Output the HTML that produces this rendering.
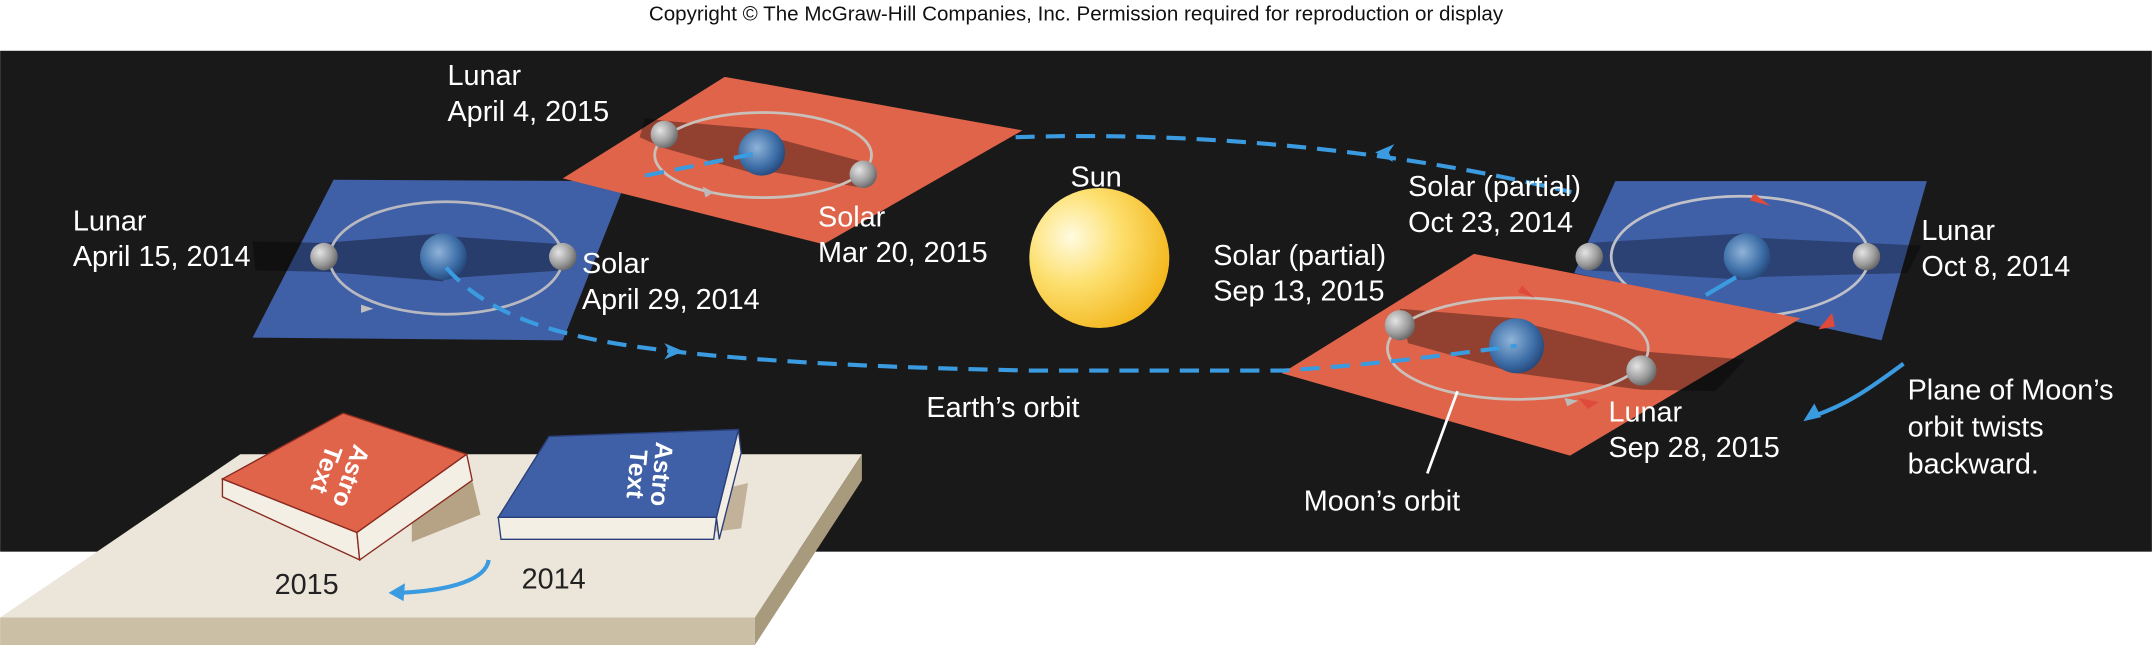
<!DOCTYPE html>
<html><head><meta charset="utf-8"><style>
html,body{margin:0;padding:0;background:#fff;}
svg{display:block;}
text{font-family:"Liberation Sans Narrow","Liberation Sans",sans-serif;}
.w{fill:#fff;font-size:21px;}
</style></head><body>
<svg width="2152" height="648" viewBox="0 0 1568 472.2" xmlns="http://www.w3.org/2000/svg">
<defs>
<radialGradient id="sun" cx="0.3" cy="0.35" r="0.75"><stop offset="0" stop-color="#fffbe0"/><stop offset="0.45" stop-color="#fde070"/><stop offset="1" stop-color="#f2b51a"/></radialGradient>
<radialGradient id="earth" cx="0.4" cy="0.4" r="0.7"><stop offset="0" stop-color="#8fb3d8"/><stop offset="0.6" stop-color="#3e6fa8"/><stop offset="1" stop-color="#1d3d6e"/></radialGradient>
<radialGradient id="moon" cx="0.35" cy="0.35" r="0.75"><stop offset="0" stop-color="#e4e4e4"/><stop offset="0.6" stop-color="#9a9a9a"/><stop offset="1" stop-color="#5a5a5a"/></radialGradient>
</defs>
<text x="784" y="15" text-anchor="middle" font-size="15" fill="#111" style="font-family:'Liberation Sans',sans-serif">Copyright © The McGraw-Hill Companies, Inc. Permission required for reproduction or display</text>
<rect x="0" y="37" width="1568" height="365" fill="#1a1919"/>

<!-- Sun -->
<circle cx="801" cy="188" r="51" fill="url(#sun)"/>
<text class="w" x="780" y="136">Sun</text>

<!-- left blue plane -->
<polygon points="243,131 456,132 410,248 184,246" fill="#3f5fa6"/>
<polygon points="184,176 236,177 323,170 323,205 236,198 186,197" fill="#000" opacity="0.35"/>
<polygon points="323,172 410,178 410,197 323,203" fill="#000" opacity="0.35"/>
<ellipse cx="325" cy="188" rx="85" ry="41" fill="none" stroke="#b8b8c0" stroke-width="2"/>
<path d="M263,222 l9,3 l-9,3z" fill="#c0c0c0"/>
<circle cx="236" cy="187" r="10" fill="url(#moon)"/>
<circle cx="410" cy="187" r="10" fill="url(#moon)"/>
<circle cx="323" cy="187" r="17" fill="url(#earth)"/>

<!-- red plane top -->
<polygon points="410,130 528,56 745,95 600,178" fill="#e0644a"/>
<polygon points="470,86 484,88 555,94 555,128 484,108 466,100" fill="#000" opacity="0.35"/>
<polygon points="555,98 629,118 629,137 555,124" fill="#000" opacity="0.35"/>
<ellipse cx="556" cy="113" rx="79" ry="31" fill="none" stroke="#c9c0bb" stroke-width="2"/>
<path d="M520,140 l-8,-4 l2,8z" fill="#bbb"/>
<circle cx="484" cy="98" r="10" fill="url(#moon)"/>
<circle cx="629" cy="127" r="10" fill="url(#moon)"/>
<circle cx="555" cy="111" r="17" fill="url(#earth)"/>

<!-- right blue plane -->
<polygon points="1177,132 1404,132 1371,248 1147,199" fill="#3f5fa6"/>
<polygon points="1158,177 1273,170 1273,204 1158,197" fill="#000" opacity="0.3"/>
<polygon points="1273,173 1400,179 1390,199 1273,202" fill="#000" opacity="0.3"/>
<ellipse cx="1268" cy="187" rx="94" ry="44" fill="none" stroke="#c0c0c8" stroke-width="2"/>
<path d="M1290,150 l-15,-4 l3,-5z" fill="#e04a3a"/>
<path d="M1325,240 l10,-12 l2,10z" fill="#e04a3a"/>
<circle cx="1158" cy="187" r="10" fill="url(#moon)"/>
<circle cx="1360" cy="187" r="10" fill="url(#moon)"/>
<circle cx="1273" cy="187" r="17" fill="url(#earth)"/>
<line x1="1243" y1="215" x2="1265" y2="202" stroke="#3a9be0" stroke-width="3"/>

<!-- right red plane -->
<polygon points="1074,185 1312,232 1144,332 934,272" fill="#e0644a"/>
<polygon points="1020,225 1105,232 1105,272 1026,250" fill="#000" opacity="0.35"/>
<polygon points="1105,234 1196,256 1272,262 1250,285 1196,284 1105,272" fill="#000" opacity="0.35"/>
<ellipse cx="1106" cy="254" rx="95" ry="37" fill="none" stroke="#c9c0bb" stroke-width="2"/>
<path d="M1118,217 l-12,-4 l3,-5z" fill="#e04a3a"/>
<path d="M1150,290 l15,3 l-8,5z" fill="#e04a3a"/>
<path d="M1140,290 l10,2 l-8,4z" fill="#bbb"/>
<circle cx="1020" cy="237" r="11" fill="url(#moon)"/>
<circle cx="1196" cy="270" r="11" fill="url(#moon)"/>
<circle cx="1105" cy="252" r="20" fill="url(#earth)"/>

<!-- Earth's orbit -->
<g fill="none" stroke="#3a9be0" stroke-width="3" stroke-dasharray="14,8">
<path d="M325,195 C360,235 420,248 490,256 C560,264 650,268 750,270 L935,270 C1000,266 1060,258 1105,252"/>
<path d="M470,128 L555,111"/>
<path d="M740,100 C850,96 1000,105 1145,140"/>
</g>
<path d="M484,250 l14,6 l-14,6 l4,-6z" fill="#3a9be0"/>
<path d="M1016,105 l-14,6 l13,7 l-3,-7z" fill="#3a9be0"/>

<line x1="1062" y1="285" x2="1040" y2="345" stroke="#fff" stroke-width="2"/>

<!-- labels -->
<text class="w" x="53" y="168">Lunar</text>
<text class="w" x="53" y="194">April 15, 2014</text>
<text class="w" x="326" y="62">Lunar</text>
<text class="w" x="326" y="88">April 4, 2015</text>
<text class="w" x="596" y="165">Solar</text>
<text class="w" x="596" y="191">Mar 20, 2015</text>
<text class="w" x="424" y="199">Solar</text>
<text class="w" x="424" y="225">April 29, 2014</text>
<text class="w" x="1026" y="143">Solar (partial)</text>
<text class="w" x="1026" y="169">Oct 23, 2014</text>
<text class="w" x="884" y="193">Solar (partial)</text>
<text class="w" x="884" y="219">Sep 13, 2015</text>
<text class="w" x="1400" y="175">Lunar</text>
<text class="w" x="1400" y="201">Oct 8, 2014</text>
<text class="w" x="675" y="304">Earth’s orbit</text>
<text class="w" x="1172" y="307">Lunar</text>
<text class="w" x="1172" y="333">Sep 28, 2015</text>
<text class="w" x="950" y="372">Moon’s orbit</text>
<text class="w" x="1390" y="291">Plane of Moon’s</text>
<text class="w" x="1390" y="318">orbit twists</text>
<text class="w" x="1390" y="345">backward.</text>
<path d="M1387,265 C1360,285 1345,295 1322,303" fill="none" stroke="#3a9be0" stroke-width="3"/>
<path d="M1314,307 l8,-13 l5,10z" fill="#3a9be0"/>

<!-- table -->
<polygon points="175,331 628,331 550,450 0,450" fill="#ece6da"/>
<polygon points="0,450 550,450 550,470 0,470" fill="#cbbfa5"/>
<polygon points="628,331 628,350 550,470 550,450" fill="#a89a7c"/>
<!-- red book shadow -->
<polygon points="300,360 344,350 350,375 300,395" fill="#a08560" opacity="0.7"/>
<!-- red book -->
<polygon points="162,349 260,388 262,408 162,362" fill="#f4efe4" stroke="#8a2a20" stroke-width="1"/>
<polygon points="260,388 340,331 344,350 262,408" fill="#f4efe4" stroke="#8a2a20" stroke-width="1"/>
<polygon points="162,349 250,301 340,331 260,388" fill="#e0644a" stroke="#8a2a20" stroke-width="1"/>
<text x="250" y="345" fill="#fff" font-size="18" font-weight="bold" transform="rotate(110 250 345)" text-anchor="middle" style="font-family:'Liberation Sans',sans-serif">Astro</text>
<text x="232" y="340" fill="#fff" font-size="18" font-weight="bold" transform="rotate(110 232 340)" text-anchor="middle" style="font-family:'Liberation Sans',sans-serif">Text</text>
<!-- blue book -->
<polygon points="470,370 545,352 540,385 500,390" fill="#a89070" opacity="0.6"/>
<polygon points="363,377 522,377 520,393 365,393" fill="#f4efe4" stroke="#2a3f7a" stroke-width="1"/>
<polygon points="522,377 538,313 540,330 524,393" fill="#f4efe4" stroke="#2a3f7a" stroke-width="1"/>
<polygon points="363,377 400,318 538,313 522,377" fill="#3f5fa6" stroke="#2a3f7a" stroke-width="1"/>
<text x="476" y="345" fill="#fff" font-size="18" font-weight="bold" transform="rotate(95 476 345)" text-anchor="middle" style="font-family:'Liberation Sans',sans-serif">Astro</text>
<text x="458" y="345" fill="#fff" font-size="18" font-weight="bold" transform="rotate(95 458 345)" text-anchor="middle" style="font-family:'Liberation Sans',sans-serif">Text</text>
<text x="200" y="433" font-size="21" fill="#222">2015</text>
<text x="380" y="429" font-size="21" fill="#222">2014</text>
<path d="M356,408 C354,422 330,430 292,432" fill="none" stroke="#3a9be0" stroke-width="3"/>
<path d="M283,432 l12,-7 l-1,13z" fill="#3a9be0"/>
</svg>
</body></html>
